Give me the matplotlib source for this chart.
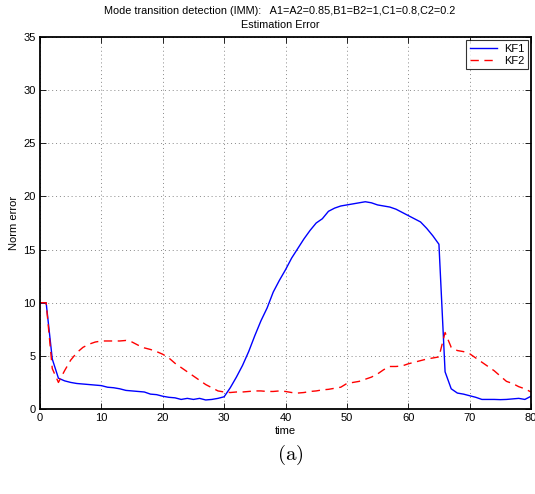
import matplotlib
matplotlib.use("Agg")
import matplotlib.pyplot as plt
import numpy as np

t = list(range(0, 81))
kf1 = [10, 10, 4.7, 2.9, 2.65, 2.5, 2.4, 2.35, 2.3, 2.25, 2.2, 2.05, 2.0, 1.9, 1.75, 1.7, 1.65, 1.6, 1.4, 1.35,
       1.2, 1.1, 1.05, 0.9, 1.0, 0.9, 1.0, 0.85, 0.9, 1.0, 1.15, 2.0, 3.0, 4.1, 5.4, 6.9, 8.3, 9.5, 11.0, 12.1,
       13.1, 14.2, 15.1, 16.0, 16.8, 17.5, 17.9, 18.6, 18.9, 19.1, 19.2, 19.3, 19.4, 19.5, 19.4, 19.2, 19.1, 19.0, 18.8, 18.5,
       18.2, 17.9, 17.6, 17.0, 16.3, 15.5, 3.5, 1.9, 1.5, 1.4, 1.25, 1.1, 0.9, 0.9, 0.9, 0.88, 0.9, 0.95, 1.0, 0.9,
       1.2]
kf2 = [10, 10, 3.8, 2.5, 3.6, 4.6, 5.3, 5.8, 6.1, 6.3, 6.4, 6.4, 6.4, 6.4, 6.45, 6.3, 6.0, 5.75, 5.6, 5.4,
       5.15, 4.8, 4.3, 3.9, 3.5, 3.1, 2.7, 2.3, 2.0, 1.7, 1.6, 1.55, 1.6, 1.6, 1.65, 1.7, 1.7, 1.65, 1.65, 1.7,
       1.65, 1.55, 1.5, 1.55, 1.65, 1.7, 1.8, 1.85, 1.95, 2.05, 2.4, 2.5, 2.6, 2.8, 3.0, 3.3, 3.7, 4.0, 4.0, 4.05,
       4.25, 4.4, 4.55, 4.7, 4.8, 4.9, 7.2, 5.8, 5.5, 5.4, 5.2, 4.8, 4.4, 4.0, 3.6, 3.1, 2.6, 2.4, 2.1, 1.9,
       1.6]
xticks = [0, 10, 20, 30, 40, 50, 60, 70, 80]
yticks = [0, 5, 10, 15, 20, 25, 30, 35]

plt.rcParams['font.family'] = ['Liberation Sans', 'DejaVu Sans']
plt.rcParams['mathtext.fontset'] = 'cm'

fig = plt.figure(figsize=(5.35, 4.94), dpi=100)
ax = fig.add_axes([40/535, 1-409/494, 491/535, 372/494])
ax.plot(t, kf1, color='#0000ff', lw=1.0, label='KF1')
ax.plot(t, kf2, color='#ff0000', lw=1.0, ls=(0, (6, 4)), label='KF2')
ax.set_xlim(0, 80)
ax.set_ylim(0, 35)
ax.set_xticks(xticks)
ax.set_yticks(yticks)
ax.tick_params(direction='in', top=True, right=True, labelsize=8, length=4, width=0.6, pad=3)
ax.grid(True, color='#888888', ls=(0, (1, 3)), lw=0.7)
for s in ax.spines.values():
    s.set_linewidth(1.3)
ax.set_xlabel('time', fontsize=8, labelpad=2)
ax.set_ylabel('Norm error', fontsize=8, labelpad=3)
fig.text(280/535, 1-11/494, 'Mode transition detection (IMM):   A1=A2=0.85,B1=B2=1,C1=0.8,C2=0.2',
         fontsize=7.8, ha='center', va='center')
fig.text(280/535, 1-25/494, 'Estimation Error', fontsize=7.8, ha='center', va='center')
leg = ax.legend(loc='upper right', fontsize=8, frameon=True, fancybox=False, handlelength=2.5,
                borderaxespad=0.3, borderpad=0.3, labelspacing=0.2, handletextpad=0.6)
leg.get_frame().set_edgecolor('black')
leg.get_frame().set_linewidth(0.8)
fig.text(290/535, 1-455/494, r'$\mathrm{(a)}$', fontsize=15, ha='center', va='center')
fig.savefig('out.png', dpi=100)
